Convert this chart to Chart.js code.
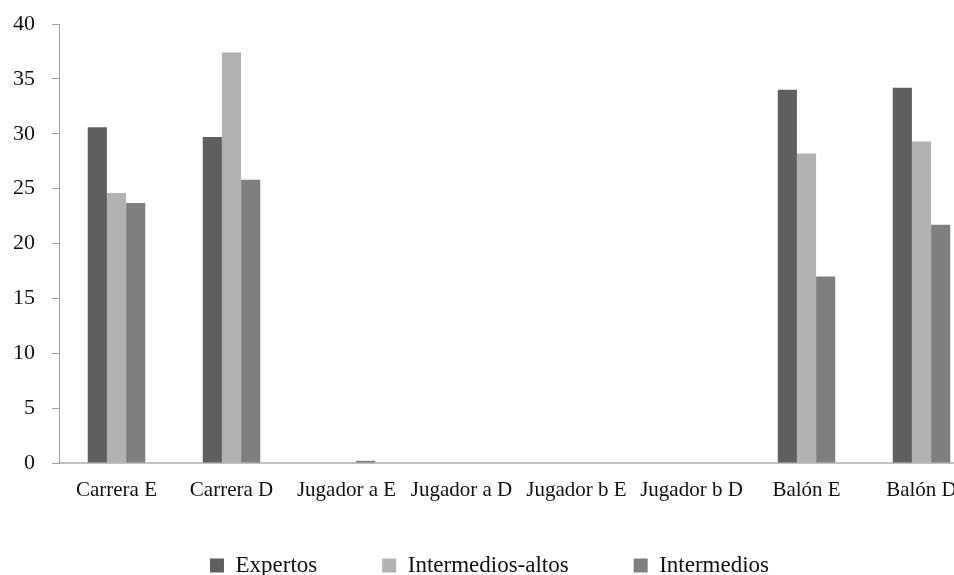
<!DOCTYPE html>
<html>
<head>
<meta charset="utf-8">
<script src="https://cdn.jsdelivr.net/npm/chart.js@4/dist/chart.umd.min.js"></script>
<style>
  html, body { margin: 0; padding: 0; background: #fff; overflow: hidden; }
  #wrap { width: 980px; height: 601px; }
</style>
</head>
<body>
<div id="wrap"><canvas id="bar-chart"></canvas></div>
<script>
var categories = ['Carrera E', 'Carrera D', 'Jugador a E', 'Jugador a D', 'Jugador b E', 'Jugador b D', 'Balón E', 'Balón D'];
var expertos = [30.6, 29.7, 0, 0, 0, 0, 34.0, 34.2];
var intermediosAltos = [24.6, 37.4, 0, 0, 0, 0, 28.2, 29.3];
var intermedios = [23.7, 25.8, 0.2, 0, 0, 0, 17.0, 21.7];
var yTicks = [0, 5, 10, 15, 20, 25, 30, 35, 40];

var serif = "'Liberation Serif', 'Times New Roman', serif";

// legend keeps wide gaps between items, but sits closer to the axis labels
var legendLift = {
  id: 'legendLift',
  afterLayout: function(chart) {
    if (chart.legend) chart.legend.top -= 14;
  }
};

new Chart(document.getElementById("bar-chart"), {
    type: 'bar',
    data: {
      labels: categories,
      datasets: [{
          label: "Expertos",
          data: expertos,
          backgroundColor: "#5f5f5f"
        }, {
          label: "Intermedios-altos",
          data: intermediosAltos,
          backgroundColor: "#b2b2b2"
        }, {
          label: "Intermedios",
          data: intermedios,
          backgroundColor: "#7f7f7f"
        }]
    },
    plugins: [legendLift],
    options: {
      responsive: true,
      maintainAspectRatio: false,
      animation: false,
      datasets: {
        bar: { categoryPercentage: 0.5, barPercentage: 1.0 }
      },
      layout: {
        autoPadding: false,
        padding: { top: 24, right: 1, left: 0, bottom: 0 }
      },
      plugins: {
        tooltip: { enabled: false },
        legend: {
          position: 'bottom',
          labels: {
            font: { family: serif, size: 23 },
            color: '#111',
            boxWidth: 14,
            boxHeight: 14,
            padding: 65
          }
        }
      },
      scales: {
        x: {
          afterFit: function(axis) { axis.height = 40; },
          grid: { display: false, drawTicks: false },
          border: { color: '#c0c0c0', width: 2 },
          ticks: {
            font: { family: serif, size: 21 },
            color: '#111',
            maxRotation: 0,
            autoSkip: false,
            padding: 15
          }
        },
        y: {
          min: 0,
          max: 40,
          afterBuildTicks: function(axis) {
            axis.ticks = yTicks.map(function(v) { return { value: v }; });
          },
          afterFit: function(axis) {
            axis.width = 59;
            axis.paddingTop = 12;
            axis.paddingBottom = 12;
          },
          grid: { drawOnChartArea: false, tickLength: 7, color: '#a0a0a0' },
          border: { color: '#a0a0a0', width: 1 },
          ticks: {
            font: { family: serif, size: 22 },
            color: '#111',
            padding: 17
          }
        }
      }
    }
});
</script>
</body>
</html>
